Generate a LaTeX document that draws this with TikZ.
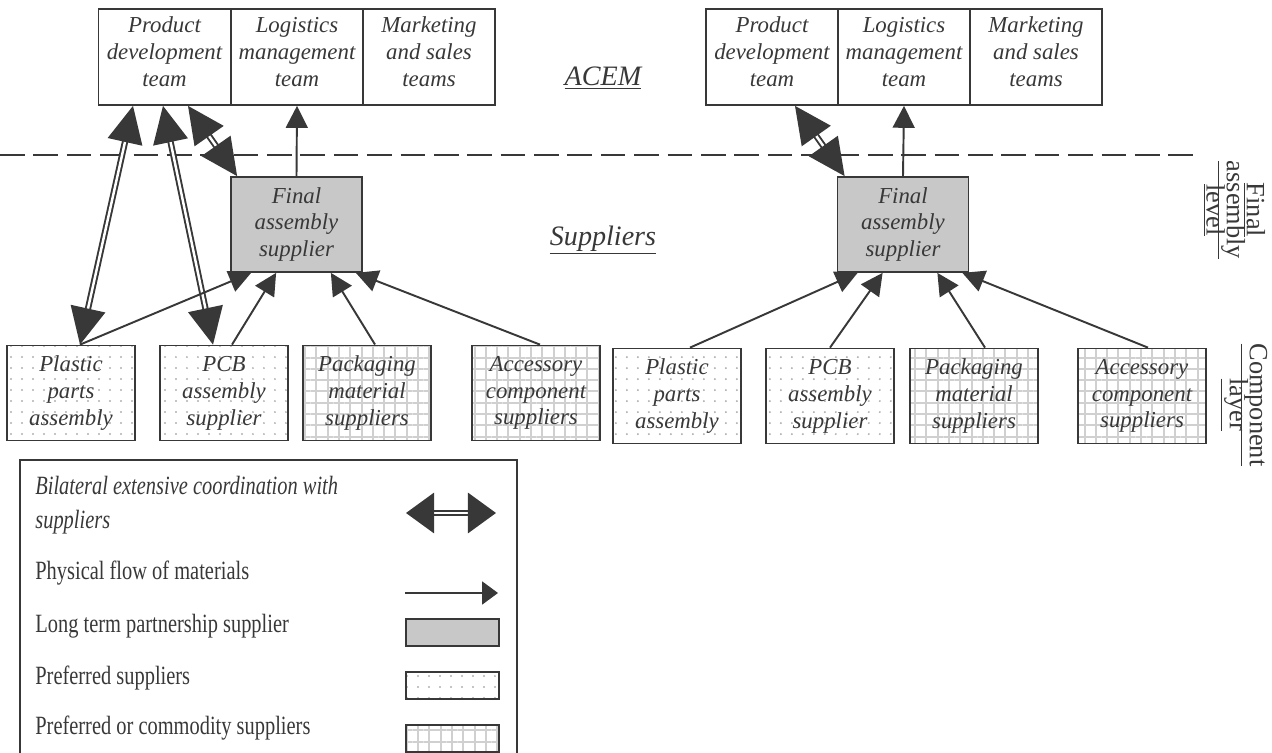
\documentclass[tikz,border=0pt]{standalone}
\usepackage{fontspec}
\setmainfont{Liberation Serif}
\newfontfamily\legendfont[FakeStretch=0.775]{Liberation Serif}
\usetikzlibrary{arrows.meta,patterns.meta}
\definecolor{ink}{HTML}{383838}
\definecolor{partner}{HTML}{C8C8C8}
\definecolor{dotgray}{HTML}{B0B0B0}
\definecolor{gridgray}{HTML}{D0D0D0}
\newcommand\sidefont{\fontsize{15}{11.4}\selectfont\lineskiplimit=-20pt\relax}
\tikzset{
  box/.style={draw=ink, line width=1pt, minimum width=2.64cm, minimum height=1.92cm,
    inner sep=0pt, align=center, text=ink, font=\fontsize{13}{15.3}\selectfont\itshape},
  teamtext/.style={inner sep=0pt, align=center, text=ink, yshift=0.1cm,
    font=\fontsize{13}{15.3}\selectfont\itshape},
  team/.style={box, label={[teamtext]center:#1}},
  partnerbox/.style={box, fill=partner, minimum width=2.62cm, minimum height=1.9cm},
  prefbox/.style={box, minimum width=2.56cm, minimum height=1.9cm,
    pattern={Dots[distance=0.22cm, radius=0.022cm]}, pattern color=dotgray},
  commbox/.style={box, minimum width=2.56cm, minimum height=1.9cm,
    pattern={Hatch[distance=0.226cm, angle=0, line width=0.04cm]}, pattern color=gridgray},
  flow/.style={draw=ink, line width=1.1pt, -{Triangle[length=12.5pt, width=12.5pt]}},
  coord/.style={draw=ink, line width=1.1pt, double=white, double distance=1.4pt,
    {Triangle[length=21pt, width=20pt]}-{Triangle[length=21pt, width=20pt]}},
  legendtext/.style={anchor=west, inner sep=0pt, align=left, text=ink,
    font=\legendfont\fontsize{15}{19.3}\selectfont},
  keybox/.style={box, minimum width=1.86cm, minimum height=0.54cm},
  sidelabel/.style={rotate=-90, inner sep=0pt, align=center, text=ink, font=\sidefont},
  layerlabel/.style={inner sep=0pt, text=ink, font=\fontsize{16}{19}\selectfont\itshape}
}
\begin{document}
\begin{tikzpicture}[x=0.02cm, y=-0.02cm]
  \useasboundingbox (0,0) rectangle (1272,753);
  \draw[ink, line width=1.1pt, dash pattern=on 14pt off 5pt] (0,155) -- (1200,155);
  \node[layerlabel] (acem) at (603,78) {\underline{ACEM}};
  \node[layerlabel] (sup) at (603,240) {\underline{Suppliers}};
  \node[sidelabel] (finlvl) at (1234,210) {\underline{Final}\\\underline{assembly}\\\underline{level}};
  \node[sidelabel] (complvl) at (1244,405) {\underline{Component}\\\underline{layer}};

  \node[team={Product\\development\\team}] (prodL) at (164.5,57) {};
  \node[team={Logistics\\management\\team}] (logL) at (297,57) {};
  \node[team={Marketing\\and sales\\teams}] (mktL) at (429,57) {};
  \node[partnerbox] (finalL) at (296.5,224.5) {Final\\assembly\\supplier};
  \node[prefbox] (plasticL) at (71,393) {Plastic\\parts\\assembly};
  \node[prefbox] (pcbL) at (224,393) {PCB\\assembly\\supplier};
  \node[commbox] (packL) at (367,393) {Packaging\\material\\suppliers};
  \node[commbox] (accL) at (536,393) {Accessory\\component\\suppliers};

  \node[team={Product\\development\\team}] (prodR) at (772,57) {};
  \node[team={Logistics\\management\\team}] (logR) at (904,57) {};
  \node[team={Marketing\\and sales\\teams}] (mktR) at (1036,57) {};
  \node[partnerbox] (finalR) at (903,224.5) {Final\\assembly\\supplier};
  \node[prefbox] (plasticR) at (677,396) {Plastic\\parts\\assembly};
  \node[prefbox] (pcbR) at (830,396) {PCB\\assembly\\supplier};
  \node[commbox] (packR) at (974,396) {Packaging\\material\\suppliers};
  \node[commbox] (accR) at (1142,396) {Accessory\\component\\suppliers};

  \draw[coord] ([xshift=-0.63cm]prodL.south) -- ([xshift=0.18cm]plasticL.north);
  \draw[coord] ([xshift=-0.03cm]prodL.south) -- ([xshift=-0.22cm]pcbL.north);
  \draw[coord] ([xshift=0.47cm]prodL.south) -- ([xshift=0.14cm]finalL.north west);
  \draw[flow] (finalL.north) -- (logL.south);
  \draw[flow] ([xshift=0.18cm]plasticL.north) -- ([xshift=0.42cm]finalL.south west);
  \draw[flow] ([xshift=0.16cm]pcbL.north) -- ([xshift=0.92cm]finalL.south west);
  \draw[flow] ([xshift=0.16cm]packL.north) -- ([xshift=-0.64cm]finalL.south east);
  \draw[flow] ([xshift=0.08cm]accL.north) -- ([xshift=-0.14cm]finalL.south east);

  \draw[coord] ([xshift=0.46cm]prodR.south) -- ([xshift=0.16cm]finalR.north west);
  \draw[flow] (finalR.north) -- (logR.south);
  \draw[flow] ([xshift=0.26cm]plasticR.north) -- ([xshift=0.42cm]finalR.south west);
  \draw[flow] (pcbR.north) -- ([xshift=0.92cm]finalR.south west);
  \draw[flow] ([xshift=0.22cm]packR.north) -- ([xshift=-0.64cm]finalR.south east);
  \draw[flow] ([xshift=0.12cm]accR.north) -- ([xshift=-0.14cm]finalR.south east);

  \draw[ink, line width=1pt] (20,770) -- (20,460) -- (517,460) -- (517,770);
  \node[legendtext] (keyCoord) at (35,505) {\itshape Bilateral extensive coordination with\\\itshape suppliers};
  \node[legendtext] (keyFlow) at (35,573) {Physical flow of materials};
  \node[legendtext] (keyLong) at (35,626) {Long term partnership supplier};
  \node[legendtext] (keyPref) at (35,678) {Preferred suppliers};
  \node[legendtext] (keyComm) at (35,728) {Preferred or commodity suppliers};
  \coordinate (coordA) at (406,513);
  \coordinate (coordB) at (496,513);
  \draw[coord, {Triangle[length=16pt, width=23pt]}-{Triangle[length=16pt, width=23pt]}] (coordA) -- (coordB);
  \coordinate (flowA) at (405,593);
  \coordinate (flowB) at (498,593);
  \draw[flow, -{Triangle[length=9pt, width=13pt]}] (flowA) -- (flowB);
  \node[keybox, fill=partner] (swLong) at (452.5,632.5) {};
  \node[keybox, pattern={Dots[distance=0.22cm, radius=0.022cm]}, pattern color=dotgray] (swPref) at (452.5,685.5) {};
  \node[keybox, pattern={Hatch[distance=0.226cm, angle=0, line width=0.04cm]}, pattern color=gridgray] (swComm) at (452.5,738.5) {};
\end{tikzpicture}
\end{document}
